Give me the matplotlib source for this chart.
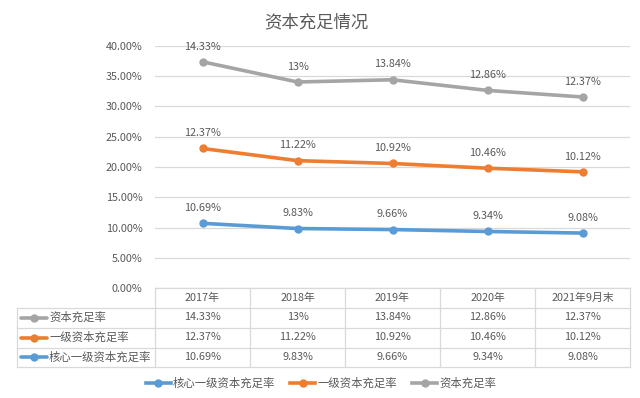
import matplotlib
matplotlib.use("Agg")
import matplotlib.pyplot as plt
from matplotlib.lines import Line2D
import numpy as np

plt.rcParams['font.family'] = ['Noto Sans CJK SC', 'DejaVu Sans']

title = "资本充足情况"
categories = ["2017年", "2018年", "2019年", "2020年", "2021年9月末"]
core_tier1 = [10.69, 9.83, 9.66, 9.34, 9.08]
tier1 = [12.37, 11.22, 10.92, 10.46, 10.12]
capital = [14.33, 13.00, 13.84, 12.86, 12.37]
core_labels = ["10.69%", "9.83%", "9.66%", "9.34%", "9.08%"]
tier1_labels = ["12.37%", "11.22%", "10.92%", "10.46%", "10.12%"]
capital_labels = ["14.33%", "13%", "13.84%", "12.86%", "12.37%"]
names = ["核心一级资本充足率", "一级资本充足率", "资本充足率"]
yticks = [0, 5, 10, 15, 20, 25, 30, 35, 40]

c_blue = "#5B9BD5"
c_orange = "#ED7D31"
c_gray = "#A5A5A5"
txt = "#595959"
grid_c = "#D9D9D9"
num_fs = 7.8

W, H = 640, 398
fig = plt.figure(figsize=(W / 100, H / 100), dpi=100)
fig.patch.set_facecolor("white")

left_px, right_px, top_px, bot_px = 155, 630, 46, 288
ax = fig.add_axes([left_px / W, 1 - bot_px / H, (right_px - left_px) / W, (bot_px - top_px) / H])

x = np.arange(len(categories)) + 0.5
s1 = np.array(core_tier1)
s2 = s1 + np.array(tier1)
s3 = s2 + np.array(capital)

series = [(s1, c_blue, core_labels), (s2, c_orange, tier1_labels), (s3, c_gray, capital_labels)]
for (vals, col, labs), nm in zip(series, names):
    ax.plot(x, vals, color=col, lw=2.6, marker='o', ms=5, label=nm, solid_capstyle='round', zorder=3)
    for xi, v, lb in zip(x, vals, labs):
        ax.annotate(lb, (xi, v), xytext=(0, 11), textcoords='offset points', ha='center', va='center',
                    fontsize=num_fs, color=txt)

ax.set_xlim(0, len(categories))
ax.set_ylim(0, 40)
ax.set_yticks(yticks)
ax.set_yticklabels([f"{t:.2f}%" for t in yticks], fontsize=num_fs, color=txt)
ax.set_xticks([])
ax.tick_params(axis='y', length=0, pad=9)
ax.grid(axis='y', color=grid_c, lw=0.9)
ax.set_axisbelow(True)
for sp in ax.spines.values():
    sp.set_visible(False)

# Title
fig.text(316 / W, 1 - 22 / H, title, ha='center', va='center', fontsize=12.5, color=txt)

# Data table
tab = fig.add_axes([0, 0, 1, 1])
tab.set_xlim(0, W)
tab.set_ylim(H, 0)
tab.axis('off')
tab.patch.set_alpha(0)

col_edges = np.linspace(left_px, right_px, len(categories) + 1)
row_edges = [288, 307.5, 327.5, 347.5, 367]
label_left = 17
lc = "#D9D9D9"
lw = 0.9
tab.plot([left_px, right_px], [row_edges[0]] * 2, color=lc, lw=lw)
for ry in row_edges[1:]:
    tab.plot([label_left, right_px], [ry] * 2, color=lc, lw=lw)
for cx in col_edges:
    tab.plot([cx, cx], [row_edges[0], row_edges[-1]], color=lc, lw=lw)
tab.plot([label_left, label_left], [row_edges[1], row_edges[-1]], color=lc, lw=lw)

for i, cat in enumerate(categories):
    cx = (col_edges[i] + col_edges[i + 1]) / 2
    tab.text(cx, (row_edges[0] + row_edges[1]) / 2, cat, ha='center', va='center', fontsize=num_fs, color=txt)

rows = [(capital_labels, c_gray, names[2]), (tier1_labels, c_orange, names[1]), (core_labels, c_blue, names[0])]
for r, (labs, col, nm) in enumerate(rows):
    cy = (row_edges[r + 1] + row_edges[r + 2]) / 2
    tab.plot([21, 47], [cy, cy], color=col, lw=2.6, solid_capstyle='round')
    tab.plot([34], [cy], marker='o', ms=5, color=col)
    tab.text(49, cy, nm, ha='left', va='center', fontsize=8.2, color=txt)
    for i, lb in enumerate(labs):
        cx = (col_edges[i] + col_edges[i + 1]) / 2
        tab.text(cx, cy, lb, ha='center', va='center', fontsize=num_fs, color=txt)

handles = [Line2D([0], [0], color=c, lw=2.6, marker='o', ms=5) for c in (c_blue, c_orange, c_gray)]
fig.legend(handles, names, loc='center', bbox_to_anchor=(321 / W, 1 - 383 / H), ncol=3, frameon=False,
           fontsize=8.2, labelcolor=txt, handlelength=2.2, handletextpad=0.2, columnspacing=1.3)

fig.savefig("out.png", dpi=100, facecolor="white")
